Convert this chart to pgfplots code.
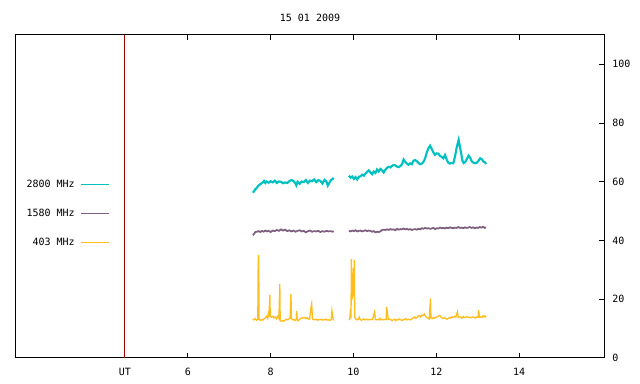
\documentclass[border=0pt]{standalone}
\usepackage{fontspec}
\setmainfont{DejaVu Sans Mono}
\usepackage{pgfplots}
\pgfplotsset{compat=1.18}
\definecolor{cA}{RGB}{0,192,192}
\definecolor{cB}{RGB}{126,94,126}
\definecolor{cC}{RGB}{255,190,30}
\definecolor{cR}{RGB}{165,0,0}
\begin{document}
\begin{tikzpicture}
\path[use as bounding box] (-12pt,-19.5pt) rectangle (468pt,268.5pt);
\begin{axis}[
  at={(0,0)}, anchor=south west,
  scale only axis, width=441pt, height=242.25pt,
  xmin=1.85, xmax=16.05, ymin=0, ymax=110,
  unbounded coords=jump,
  font=\fontsize{7.5}{9}\selectfont,
  /pgf/number format/assume math mode=true,
  axis line style={line width=0.75pt},
  tick style={line width=0.75pt, black},
  major tick length=3.5pt,
  tick align=inside,
  xtick={4.48,6,8,10,12,14},
  xticklabels={UT,6,8,10,12,14},
  xtick pos=both,
  ytick={0,20,40,60,80,100},
  ytick pos=right,
  yticklabel pos=right,
  xticklabel style={anchor=base, yshift=-13.5pt, inner sep=0pt},
  yticklabel style={anchor=west, xshift=6pt, inner sep=0pt},
  title={15 01 2009},
  every axis title shift=0pt,
  title style={at={(0.5,1)}, anchor=center, yshift=12.75pt, inner sep=0pt},
  legend plot pos=right,
  legend cell align=right,
  legend style={at={(0,1)}, anchor=north east, xshift=70.5pt, yshift=-108pt,
    draw=none, fill=none, inner sep=0pt, row sep=14.25pt,
    nodes={inner sep=0pt, text height=6pt, text depth=1.5pt},
    /tikz/every odd column/.append style={column sep=4.5pt}},
  legend image code/.code={\draw[#1, line width=0.75pt] (0pt,0pt) -- (21pt,0pt);},
]
\addplot[cR, line width=0.75pt, forget plot] coordinates {(4.48,0) (4.48,110)};

\addplot[cA, line width=1.6pt] coordinates {
(7.57,56.3) (7.60,56.8) (7.63,57.5) (7.66,57.9) (7.69,58.4) (7.72,58.9) (7.75,59.2) (7.78,59.5) (7.81,59.8) (7.84,60.3) (7.87,59.6) (7.90,60.1) (7.95,59.7) (8.00,60.2) (8.05,59.8) (8.10,60.4) (8.15,59.6) (8.20,60.1) (8.25,60.0) (8.30,59.5) (8.35,59.8) (8.40,59.6) (8.45,60.2) (8.50,60.6) (8.55,60.3) (8.60,59.4) (8.62,58.8) (8.65,60.0) (8.70,59.3) (8.75,60.1) (8.80,59.9) (8.85,60.6) (8.90,59.6) (8.95,60.4) (9.00,60.2) (9.05,60.8) (9.10,59.9) (9.15,60.6) (9.20,60.3) (9.25,59.4) (9.30,60.7) (9.35,60.0) (9.38,58.7) (9.40,59.2) (9.45,60.5) (9.50,61.0) (9.52,61.4)
(9.7,nan)
(9.89,62.1) (9.93,61.4) (9.97,61.8) (10.01,61.0) (10.05,61.6) (10.09,60.8) (10.13,61.7) (10.17,61.9) (10.21,62.4) (10.25,62.1) (10.29,62.8) (10.33,63.4) (10.37,63.9) (10.41,63.2) (10.45,62.6) (10.49,63.5) (10.53,63.0) (10.57,64.2) (10.61,63.5) (10.65,64.4) (10.69,63.9) (10.73,63.2) (10.77,64.1) (10.81,64.8) (10.85,65.1) (10.89,64.9) (10.93,65.4) (10.97,65.7) (11.01,65.6) (11.05,65.2) (11.09,65.0) (11.13,65.3) (11.17,65.9) (11.21,67.6) (11.25,66.8) (11.29,66.2) (11.33,65.8) (11.37,66.3) (11.41,66.0) (11.45,67.2) (11.49,67.4) (11.53,67.0) (11.57,66.4) (11.61,66.0) (11.65,66.2) (11.69,66.8) (11.73,68.0) (11.77,70.0) (11.81,71.4) (11.85,72.3) (11.89,71.2) (11.93,70.0) (11.97,69.2) (12.01,69.7) (12.05,69.6) (12.09,68.8) (12.13,68.5) (12.17,68.0) (12.21,69.1) (12.25,67.6) (12.29,66.5) (12.33,66.2) (12.37,66.4) (12.41,66.3) (12.45,68.5) (12.49,71.5) (12.52,73.2) (12.54,74.3) (12.57,72.0) (12.60,69.8) (12.63,67.2) (12.66,66.4) (12.70,66.8) (12.74,67.8) (12.78,68.9) (12.82,68.1) (12.86,66.9) (12.90,66.5) (12.94,66.3) (12.98,66.5) (13.02,67.2) (13.06,68.0) (13.10,67.7) (13.14,66.9) (13.18,66.6) (13.20,66.0)
};
\addlegendentry{2800 MHz}

\addplot[cB, line width=1.3pt] coordinates {
(7.57,41.8) (7.60,42.3) (7.63,42.9) (7.67,43.0) (7.71,43.2) (7.75,42.9) (7.79,43.3) (7.83,43.0) (7.87,43.4) (7.91,43.1) (7.95,43.3) (8.00,42.9) (8.05,43.4) (8.10,43.2) (8.15,43.6) (8.20,43.3) (8.25,43.8) (8.30,43.4) (8.35,43.7) (8.40,43.2) (8.45,43.5) (8.50,43.1) (8.55,43.4) (8.60,43.0) (8.65,43.3) (8.70,43.5) (8.75,43.1) (8.80,43.3) (8.85,42.8) (8.90,43.2) (8.95,43.4) (9.00,43.0) (9.05,43.2) (9.10,43.1) (9.15,43.3) (9.20,42.9) (9.25,43.2) (9.30,43.0) (9.35,43.3) (9.40,43.1) (9.45,43.2) (9.50,43.0) (9.52,43.2)
(9.7,nan)
(9.89,43.3) (9.93,43.1) (9.97,43.4) (10.01,43.2) (10.05,43.5) (10.09,43.1) (10.13,43.3) (10.17,43.4) (10.21,43.1) (10.25,43.3) (10.29,43.5) (10.33,43.2) (10.37,43.4) (10.41,43.3) (10.45,43.0) (10.49,43.2) (10.53,42.8) (10.57,43.0) (10.61,42.9) (10.65,43.1) (10.69,43.6) (10.73,43.7) (10.77,43.6) (10.81,43.8) (10.85,43.6) (10.89,43.9) (10.93,43.7) (10.97,43.8) (11.01,43.5) (11.05,44.0) (11.09,43.7) (11.13,43.9) (11.17,43.8) (11.21,44.1) (11.25,43.8) (11.29,44.0) (11.33,43.7) (11.37,43.9) (11.41,43.6) (11.45,43.8) (11.49,43.9) (11.53,43.7) (11.57,44.0) (11.61,43.8) (11.65,44.2) (11.69,44.0) (11.73,44.3) (11.77,44.1) (11.81,44.2) (11.85,44.0) (11.89,44.1) (11.93,44.3) (11.97,43.9) (12.01,44.2) (12.05,44.1) (12.09,44.4) (12.13,44.2) (12.17,44.3) (12.21,44.1) (12.25,44.4) (12.29,44.2) (12.33,44.5) (12.37,44.3) (12.41,44.2) (12.45,44.4) (12.49,44.3) (12.53,44.6) (12.57,44.3) (12.61,44.4) (12.65,44.2) (12.69,44.5) (12.73,44.3) (12.77,44.4) (12.81,44.6) (12.85,44.3) (12.89,44.5) (12.93,44.2) (12.97,44.4) (13.01,44.3) (13.05,44.6) (13.09,44.4) (13.13,44.7) (13.17,44.3) (13.20,44.5)
};
\addlegendentry{1580 MHz}

\addplot[cC, line width=1pt] coordinates {
(7.57,13.3) (7.60,13.0) (7.63,13.4) (7.66,12.9) (7.69,13.2) (7.70,33.6) (7.71,35.1) (7.72,13.3) (7.75,12.8) (7.78,13.1) (7.81,12.9) (7.84,13.4) (7.87,13.6) (7.90,14.2) (7.93,13.5) (7.95,16.0) (7.96,14.0) (7.98,21.5) (7.99,14.3) (8.02,13.9) (8.05,14.2) (8.08,13.6) (8.11,14.0) (8.14,13.4) (8.17,14.2) (8.20,13.5) (8.22,25.2) (8.23,12.8) (8.26,12.5) (8.29,12.7) (8.32,12.5) (8.35,12.9) (8.38,13.2) (8.41,13.0) (8.44,13.3) (8.47,13.6) (8.49,21.8) (8.50,13.5) (8.53,13.0) (8.56,13.1) (8.59,12.8) (8.62,13.1) (8.63,16.0) (8.64,13.0) (8.67,12.7) (8.70,13.2) (8.73,13.5) (8.76,13.7) (8.79,13.6) (8.82,13.8) (8.85,13.4) (8.88,13.7) (8.91,13.3) (8.94,13.2) (8.97,16.9) (8.99,18.4) (9.01,13.3) (9.04,13.1) (9.07,13.0) (9.10,13.2) (9.13,12.9) (9.16,13.1) (9.19,13.0) (9.22,13.2) (9.25,12.9) (9.28,13.1) (9.31,13.0) (9.34,13.2) (9.37,12.9) (9.40,13.0) (9.43,12.8) (9.46,13.0) (9.48,16.0) (9.50,13.9) (9.52,12.8)
(9.7,nan)
(9.89,13.0) (9.91,13.2) (9.93,16.9) (9.94,13.5) (9.95,33.7) (9.97,20.0) (9.98,24.6) (9.99,21.0) (10.00,30.5) (10.01,25.0) (10.02,33.4) (10.03,14.0) (10.06,13.2) (10.09,13.0) (10.12,13.3) (10.14,13.9) (10.16,13.1) (10.19,12.9) (10.22,13.0) (10.25,13.3) (10.28,13.0) (10.31,13.2) (10.34,13.0) (10.37,13.1) (10.40,13.0) (10.43,13.2) (10.46,13.1) (10.49,14.7) (10.51,15.7) (10.53,13.1) (10.56,13.0) (10.59,13.2) (10.62,13.0) (10.64,13.5) (10.67,13.0) (10.70,13.1) (10.73,13.0) (10.76,13.2) (10.79,13.1) (10.80,17.4) (10.82,15.4) (10.84,13.2) (10.87,13.3) (10.90,13.1) (10.93,12.7) (10.96,13.0) (10.99,13.2) (11.02,12.7) (11.05,13.1) (11.08,13.0) (11.11,13.3) (11.14,13.0) (11.17,12.8) (11.20,13.0) (11.23,13.1) (11.26,13.4) (11.29,13.0) (11.32,13.2) (11.35,13.1) (11.38,13.0) (11.41,13.3) (11.44,13.6) (11.47,14.0) (11.50,13.5) (11.53,13.8) (11.56,14.2) (11.59,14.4) (11.62,14.0) (11.65,14.6) (11.68,14.5) (11.71,15.0) (11.74,14.2) (11.77,13.8) (11.80,13.6) (11.83,13.3) (11.86,20.3) (11.87,13.6) (11.90,13.4) (11.93,13.8) (11.96,13.5) (11.99,13.9) (12.02,14.0) (12.05,14.2) (12.08,14.5) (12.11,14.0) (12.14,13.6) (12.17,13.5) (12.20,13.7) (12.23,13.4) (12.26,13.2) (12.29,13.5) (12.32,13.7) (12.35,13.6) (12.38,14.0) (12.41,13.8) (12.44,14.2) (12.47,13.9) (12.51,15.7) (12.53,13.8) (12.56,13.9) (12.59,14.0) (12.62,13.6) (12.65,14.1) (12.68,13.8) (12.71,13.9) (12.74,14.1) (12.77,13.8) (12.80,13.9) (12.83,13.7) (12.86,13.9) (12.89,14.0) (12.92,13.8) (12.95,13.6) (12.98,14.0) (13.01,13.9) (13.02,16.3) (13.04,13.9) (13.07,14.0) (13.10,13.8) (13.13,14.4) (13.16,14.0) (13.18,14.3) (13.20,13.9)
};
\addlegendentry{403 MHz}
\end{axis}
\end{tikzpicture}
\end{document}
